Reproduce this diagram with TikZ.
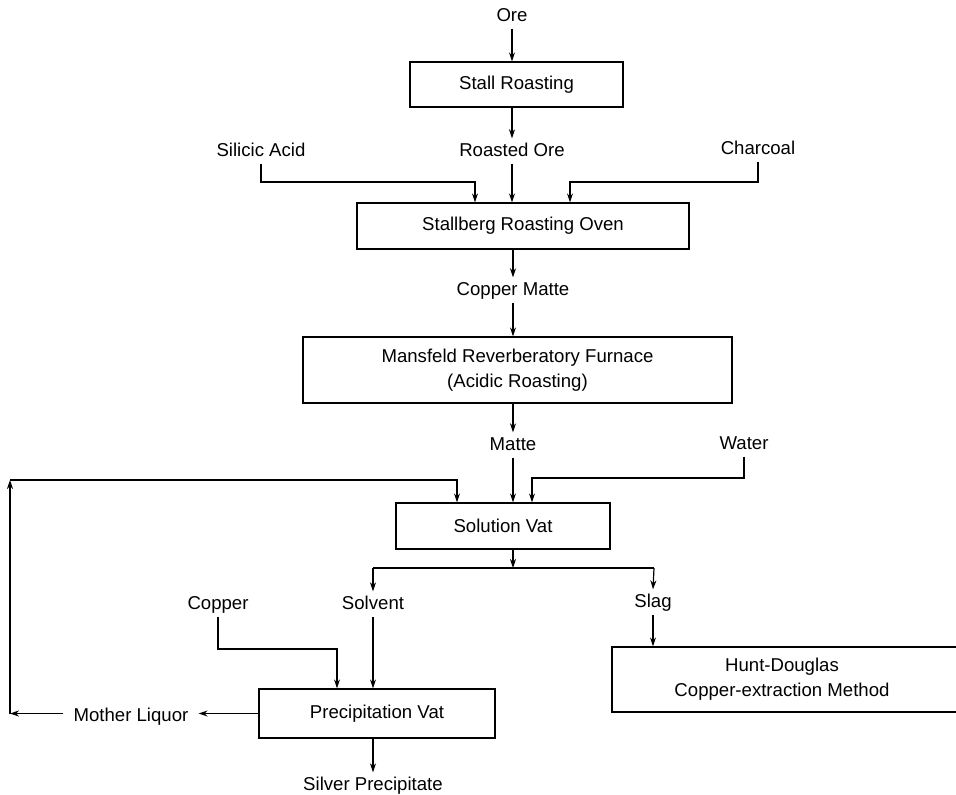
\documentclass[tikz,border=0pt]{standalone}
\usepackage{fontspec}
\setmainfont{Liberation Sans}
\usetikzlibrary{arrows.meta}
\begin{document}
\begin{tikzpicture}[x=1pt,y=-1pt,
  every node/.style={font=\fontsize{18.6}{22}\selectfont},
  lbl/.style={inner sep=4pt, text height=13.5pt, text depth=3.5pt},
  proc/.style={draw, line width=1.2pt, minimum width=#1, inner sep=0pt, align=center},
  flow/.style={line width=1.2pt, -{Stealth[length=9pt,width=6pt]}},
  plain/.style={line width=1.2pt}]
\useasboundingbox (0,0) rectangle (956,795);
% process boxes
\node[proc=213pt, minimum height=45pt] (stall) at (516.5,84.5) {Stall Roasting};
\node[proc=332pt, minimum height=46pt] (stallberg) at (523,226) {Stallberg Roasting Oven};
\node[proc=429pt, minimum height=66pt] (mansfeld) at (517.5,370) {Mansfeld Reverberatory Furnace\\[3pt](Acidic Roasting)};
\node[proc=214pt, minimum height=46pt] (solution) at (503,526) {Solution Vat};
\node[proc=236pt, minimum height=49pt] (precip) at (377,713.5) {Precipitation Vat};
\node[proc=350pt, minimum height=65pt] (hunt) at (787,679.5) {};
\node at (782,667) {Hunt-Douglas};
\node at (782,692) {Copper-extraction Method};
% labels
\node[lbl] (ore) at (512,16) {Ore};
\node[lbl] (roasted) at (512,151) {Roasted Ore};
\node[lbl] (silicic) at (261,151) {Silicic Acid};
\node[lbl] (charcoal) at (758,149) {Charcoal};
\node[lbl] (coppermatte) at (513,290) {Copper Matte};
\node[lbl] (matte) at (513,445) {Matte};
\node[lbl] (water) at (744,444) {Water};
\node[lbl] (copper) at (218,604) {Copper};
\node[lbl] (solvent) at (373,604) {Solvent};
\node[lbl] (slag) at (653,602) {Slag};
\node[lbl, inner sep=10pt] (mother) at (131,716) {Mother Liquor};
\node[lbl] (silver) at (373,785) {Silver Precipitate};
% junction coordinates
\coordinate (sj) at (475,182);
\coordinate (cj) at (570,182);
\coordinate (wj) at (532,478);
\coordinate (fl) at (10,713.5);
\coordinate (ft) at (10,480);
\coordinate (fj) at (457,480);
\coordinate (split) at (513,568);
\coordinate (sl) at (373,568);
\coordinate (sr) at (654,568);
\coordinate (cpj) at (337,649);
% connectors
\draw[flow] (ore) -- (ore |- stall.north);
\draw[flow] (stall.south -| roasted) -- (roasted.north);
\draw[flow] (roasted) -- (roasted |- stallberg.north);
\draw[flow] (silicic.south) |- (sj) -- (sj |- stallberg.north);
\draw[flow] (charcoal.south) |- (cj) -- (cj |- stallberg.north);
\draw[flow] (stallberg.south -| coppermatte) -- (coppermatte.north);
\draw[flow] (coppermatte.south) -- (coppermatte |- mansfeld.north);
\draw[flow] (mansfeld.south -| matte) -- (matte.north);
\draw[flow] (matte.south) -- (matte |- solution.north);
\draw[flow] (water.south) |- (wj) -- (wj |- solution.north);
\draw[flow] (solution.south -| split) -- (split);
\draw[plain] (sl) -- (sr);
\draw[flow] (sl) -- (solvent.north);
\draw[flow] (sr) -- (slag.north);
\draw[flow] (solvent.south) -- (solvent |- precip.north);
\draw[flow] (copper.south) |- (cpj) -- (cpj |- precip.north);
\draw[flow] (slag.south) -- (slag |- hunt.north);
\draw[flow] (precip.south -| silver) -- (silver.north);
\draw[flow] (precip.west) -- (precip.west -| mother.east);
\draw[flow] (mother.west |- fl) -- (fl);
\draw[flow] (fl) -- (ft);
\draw[flow] (ft) -- (fj) -- (fj |- solution.north);
\end{tikzpicture}
\end{document}
